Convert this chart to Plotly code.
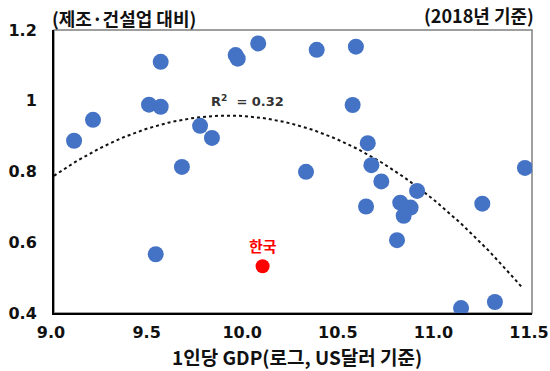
import numpy as np
import plotly.graph_objects as go

# Log GDP per capita (x) vs. ratio relative to manufacturing/construction (y), 2018
gdp_log = [9.105, 9.204, 9.497, 9.558, 9.558, 9.764, 9.826, 9.669, 9.950, 9.961,
           10.068, 10.374, 10.579, 10.562, 10.641, 10.660, 10.318, 10.712, 11.463,
           10.899, 10.632, 10.811, 10.865, 10.829, 11.240, 10.794, 11.129, 11.306,
           9.532]
ratio = [0.887, 0.946, 0.989, 0.983, 1.110, 0.929, 0.895, 0.813, 1.129, 1.119,
         1.162, 1.144, 1.153, 0.988, 0.880, 0.818, 0.799, 0.772, 0.810,
         0.745, 0.701, 0.712, 0.698, 0.675, 0.709, 0.606, 0.414, 0.431,
         0.566]

korea_x = [10.091]
korea_y = [0.532]
korea_label = "한국"

# quadratic trend line (vertex form) and its reported fit
trend_peak_x = 9.91
trend_peak_y = 0.958
trend_curvature = -0.2055
trend_span = [9.0, 11.45]
trend_r2 = 0.32

x_ticks = [9.0, 9.5, 10.0, 10.5, 11.0, 11.5]
x_ticktext = ["9.0", "9.5", "10.0", "10.5", "11.0", "11.5"]
y_ticks = [0.4, 0.6, 0.8, 1.0, 1.2]
y_ticktext = ["0.4", "0.6", "0.8", "1", "1.2"]

trend_x = np.linspace(trend_span[0], trend_span[1], 120)
trend_y = trend_peak_y + trend_curvature * (trend_x - trend_peak_x) ** 2

NUM_FONT = "DejaVu Sans"
KR_FONT = "Noto Sans CJK KR"

fig = go.Figure()
fig.add_trace(go.Scatter(
    x=trend_x, y=trend_y, mode="lines",
    line=dict(color="#111111", width=2, dash="dot"),
    hoverinfo="skip", showlegend=False))
fig.add_trace(go.Scatter(
    x=gdp_log, y=ratio, mode="markers",
    marker=dict(color="#4472C4", size=16, line=dict(width=0)),
    showlegend=False))
fig.add_trace(go.Scatter(
    x=korea_x, y=korea_y, mode="markers",
    marker=dict(color="#FF0000", size=14, line=dict(width=0)),
    showlegend=False))

fig.add_annotation(
    x=korea_x[0], y=korea_y[0], text="<b>" + korea_label + "</b>",
    showarrow=False, yshift=21,
    font=dict(family=KR_FONT, size=15, color="#FF0000"))

fig.add_annotation(
    x=9.81, y=1.0, xanchor="left", text="<b>R<sup>2</sup>  = %.2f</b>" % trend_r2,
    showarrow=False,
    font=dict(family=NUM_FONT, size=13, color="#333333"))

fig.add_annotation(
    xref="paper", yref="paper", x=0, y=1, xanchor="left", yanchor="bottom",
    text="<b>(제조·건설업 대비)</b>", showarrow=False, yshift=-3, xshift=-4,
    font=dict(family=KR_FONT, size=18, color="#111111"))
fig.add_annotation(
    xref="paper", yref="paper", x=1, y=1, xanchor="right", yanchor="bottom",
    text="<b>(2018년 기준)</b>", showarrow=False, yshift=0, xshift=4,
    font=dict(family=KR_FONT, size=18, color="#111111"))

# x-axis title placed just below the tick labels
fig.add_annotation(
    xref="paper", yref="paper", x=0.5, y=0, xanchor="center", yanchor="top",
    yshift=-28, xshift=4,
    text="<b>1인당 GDP(로그, US달러 기준)</b>", showarrow=False,
    font=dict(family=KR_FONT, size=19, color="#111111"))

# frame: light top/right edges
fig.add_shape(type="rect", xref="paper", yref="paper", x0=0, y0=0, x1=1, y1=1,
              line=dict(color="#808080", width=1.5), layer="below")

fig.update_layout(
    width=550, height=371,
    margin=dict(l=54, r=18, t=30, b=58, autoexpand=False),
    paper_bgcolor="white", plot_bgcolor="white",
    xaxis=dict(
        range=[9.0, 11.5], tickvals=x_ticks, ticktext=x_ticktext,
        showgrid=False, zeroline=False, automargin=False,
        showline=True, linecolor="#000000", linewidth=2,
        ticks="outside", ticklen=4, tickcolor="rgba(0,0,0,0)",
        ticklabeloverflow="allow", ticklabelshift=-3,
        tickfont=dict(family=NUM_FONT, size=16, color="#111111", weight="bold")),
    yaxis=dict(
        range=[0.4, 1.2], tickvals=y_ticks, ticktext=y_ticktext,
        showgrid=False, zeroline=False, automargin=False,
        showline=True, linecolor="#000000", linewidth=2,
        ticks="outside", ticklen=12, tickcolor="rgba(0,0,0,0)",
        ticklabeloverflow="allow",
        tickfont=dict(family=NUM_FONT, size=16, color="#111111", weight="bold")),
)

fig.write_html("out.html")
